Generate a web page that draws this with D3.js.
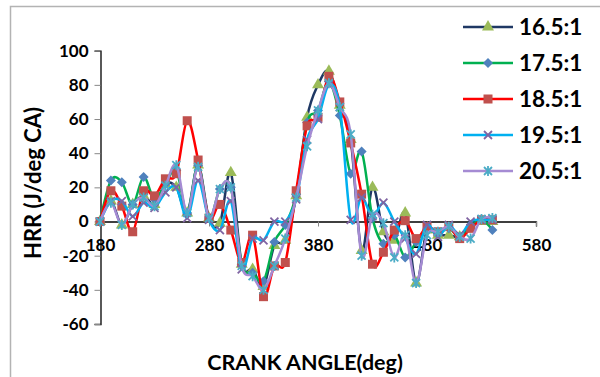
<!DOCTYPE html>
<html>
<head>
<meta charset="utf-8">
<script src="https://cdn.jsdelivr.net/npm/d3@7"></script>
<style>
  html, body { margin: 0; padding: 0; background: #fff; }
  svg { display: block; }
  text { font-family: Lato, "Open Sans", sans-serif; font-weight: 700; fill: #000; }
</style>
</head>
<body>
<svg id="chart" width="600" height="377"></svg>
<script>
// Crank angle (deg) sampled every 10 degrees
const crankAngle = [180,190,200,210,220,230,240,250,260,270,280,290,300,310,320,330,340,350,360,
                    370,380,390,400,410,420,430,440,450,460,470,480,490,500,510,520,530,540];

// Heat release rate (J/deg CA) for each compression ratio
const hrr165 = [0,12,-2,10,15,10,22,20,5,33,2,-1,28.6,-25,-28,-38,-14,-11,15,
                61,80,88,68,48,-17,20,-6,-11,5,-36,-5,-8,-8,-9,-3,0,0];
const hrr175 = [0,24,23,10,26,13,22,30,5,33,2,19,20,-25,-30,-35,-12,-2,16,
                58,65,82,62,28,41,2,-13,-8,-21,-12,-5,-7,-4,-9,-3,1,-5];
const hrr185 = [0,18,9,-6,18,15,25,28,59,36,2,10,-5,-24,-8,-44,-26,-24,18,
                56,61,85,70,46,16,-25,-18,-5,0.5,-10,-3,-6,-3,-10,-4,1,1];
const hrr195 = [0,12,12,3,11,8,17,20,2,24,1,-5,12,-28,-10,-11,0,0,13,
                48,60,80,67,1,14,3,11,0,-10,-19,-2,-9,-2,-8,0,1,1];
const hrr205 = [0,11,-2,10,14,9,21,33,5,32,2,19,20,-26,-32,-40,-26,-10,14,
                44,65,81,67,51,-20,4,-1,-21,-8,-36,-8,-6,-3,-9,-10,1.5,2];

const seriesNames = ["16.5:1","17.5:1","18.5:1","19.5:1","20.5:1"];
const xTicks = [180,280,380,480,580];
const yTicks = [-60,-40,-20,0,20,40,60,80,100];

const series = [
  { name: seriesNames[0], values: hrr165, line: "#1F3864", marker: "triangle", color: "#9BBB59" },
  { name: seriesNames[1], values: hrr175, line: "#00B050", marker: "diamond",  color: "#4F81BD" },
  { name: seriesNames[2], values: hrr185, line: "#FF0000", marker: "square",   color: "#C0504D" },
  { name: seriesNames[3], values: hrr195, line: "#00B0F0", marker: "cross",    color: "#8064A2" },
  { name: seriesNames[4], values: hrr205, line: "#A58BD3", marker: "star",     color: "#4BACC6" }
];

const svg = d3.select("#chart");

// outer chart frame
svg.append("rect")
  .attr("x", 10.5).attr("y", 6.5)
  .attr("width", 640).attr("height", 420)
  .attr("fill", "none").attr("stroke", "#b3b3b3").attr("stroke-width", 1.5);

const x = d3.scaleLinear().domain([180, 580]).range([100, 536]);
const y = d3.scaleLinear().domain([-60, 100]).range([324, 50.7]);

const plainLabel = d => String(d);

// y axis
const yAxis = d3.axisLeft(y).tickValues(yTicks).tickSize(6).tickPadding(6).tickFormat(plainLabel);
const gy = svg.append("g").attr("transform", "translate(100.5,0)").call(yAxis);
gy.select(".domain").attr("stroke", "#000").attr("stroke-width", 1.3);
gy.selectAll(".tick line").attr("stroke", "#888");
gy.selectAll(".tick text").attr("font-size", 17).attr("font-family", "Lato, sans-serif")
  .attr("font-weight", 700).attr("fill", "#000");

// x axis at y = 0
const xAxis = d3.axisBottom(x).tickValues(xTicks).tickSize(5).tickPadding(12).tickFormat(plainLabel);
const gx = svg.append("g").attr("transform", `translate(0,${y(0)})`).call(xAxis);
gx.select(".domain").attr("stroke", "#000").attr("stroke-width", 1.3);
gx.selectAll(".tick line").attr("stroke", "#888");
gx.selectAll(".tick text").attr("font-size", 17).attr("font-family", "Lato, sans-serif")
  .attr("font-weight", 700).attr("fill", "#000");

// axis titles
svg.append("text")
  .attr("transform", `translate(41,183) rotate(-90)`)
  .attr("text-anchor", "middle")
  .attr("font-size", 22)
  .text("HRR (J/deg CA)");

svg.append("text")
  .attr("x", 305).attr("y", 370)
  .attr("text-anchor", "middle")
  .attr("font-size", 21.5)
  .text("CRANK ANGLE(deg)");

// marker drawing
function drawMarker(g, type, color) {
  if (type === "triangle") {
    g.append("path").attr("d", d3.symbol(d3.symbolTriangle, 62)()).attr("fill", color);
  } else if (type === "diamond") {
    g.append("path").attr("d", "M0,-5L5,0L0,5L-5,0Z").attr("fill", color);
  } else if (type === "square") {
    g.append("rect").attr("x", -4.5).attr("y", -4.5).attr("width", 9).attr("height", 9).attr("fill", color);
  } else if (type === "cross") {
    g.append("path").attr("d", "M-4,-4L4,4M-4,4L4,-4")
      .attr("stroke", color).attr("stroke-width", 1.8).attr("fill", "none");
  } else if (type === "star") {
    g.append("path").attr("d", "M-4,-4L4,4M-4,4L4,-4M0,-5L0,5")
      .attr("stroke", color).attr("stroke-width", 1.8).attr("fill", "none");
  }
}

const line = d3.line()
  .x((d, i) => x(crankAngle[i]))
  .y(d => y(d))
  .curve(d3.curveCatmullRom.alpha(0));

series.forEach(s => {
  const g = svg.append("g");
  g.append("path")
    .attr("d", line(s.values))
    .attr("fill", "none")
    .attr("stroke", s.line)
    .attr("stroke-width", 2.5)
    .attr("stroke-linejoin", "round");
  g.selectAll("g.pt").data(s.values).join("g")
    .attr("class", "pt")
    .attr("transform", (d, i) => `translate(${x(crankAngle[i])},${y(d)})`)
    .each(function() { drawMarker(d3.select(this), s.marker, s.color); });
});

// legend
const legend = svg.append("g");
series.forEach((s, i) => {
  const cy = 27 + i * 36;
  const g = legend.append("g");
  g.append("line").attr("x1", 463).attr("x2", 513).attr("y1", cy).attr("y2", cy)
    .attr("stroke", s.line).attr("stroke-width", 2.5);
  drawMarker(g.append("g").attr("transform", `translate(488,${cy})`), s.marker, s.color);
  g.append("text").attr("x", 519).attr("y", cy + 8).attr("font-size", 22.5).text(s.name);
});
</script>
</body>
</html>
